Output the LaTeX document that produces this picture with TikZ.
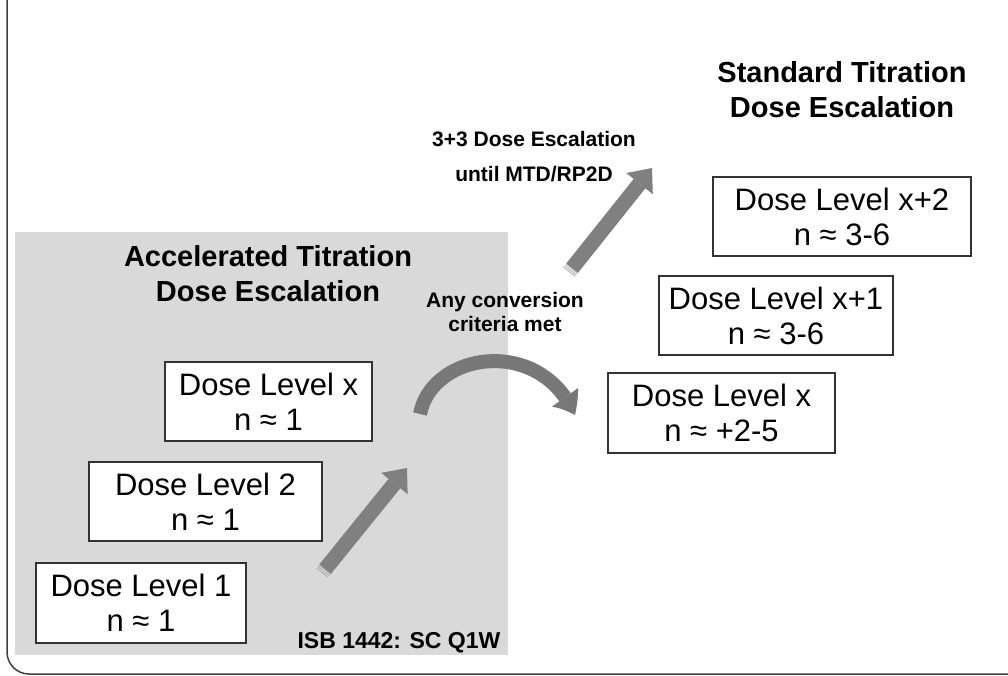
\documentclass[tikz,border=0pt]{standalone}
\usepackage{fontspec}
\setmainfont{Liberation Sans}
\usetikzlibrary{arrows.meta,bending,calc}

\newlength{\du}
\setlength{\du}{1pt}

\definecolor{panelgray}{rgb}{0.851000, 0.851000, 0.851000}
\definecolor{arrowgray}{rgb}{0.502000, 0.502000, 0.502000}
\definecolor{curvegray}{rgb}{0.470000, 0.470000, 0.470000}
\definecolor{boxline}{rgb}{0.200000, 0.200000, 0.200000}
\definecolor{framecolor}{rgb}{0.250000, 0.250000, 0.250000}

\tikzset{
  dosebox/.style={draw=boxline, line width=1.5\du, fill=white, inner sep=0pt,
    align=center, font=\fontsize{31}{35}\selectfont},
  headtext/.style={inner sep=0pt, align=center, font=\bfseries\fontsize{29}{35}\selectfont},
  notetext/.style={inner sep=0pt, align=center, font=\bfseries\fontsize{21}{24}\selectfont},
  blockarrow/.style={draw=arrowgray, line width=15\du,
    -{Triangle[length=20pt, width=34pt, line width=0pt]}},
  tailstripes/.style={draw=arrowgray!60, line width=15\du, dash pattern=on 1pt off 1pt},
  curvearrow/.style={draw=curvegray, line width=14\du,
    -{Triangle[length=21pt, width=32pt, line width=0pt, bend]}},
}

\begin{document}
\begin{tikzpicture}
\pgftransformxscale{1.000000}
\pgftransformyscale{-1.000000}
\useasboundingbox (0\du,0\du) rectangle (1008\du,675\du);
% outer frame
\draw[framecolor, line width=1.5\du, rounded corners=22\du] (7\du,-2\du)--(7\du,674\du)--(1010\du,674\du);
% accelerated titration panel
\fill[panelgray] (15\du,232\du)--(508\du,232\du)--(508\du,655\du)--(15\du,655\du)--cycle;
% setfont left to latex
\node[headtext] (acctitle) at (268\du,274\du){Accelerated Titration\\Dose Escalation};
\node[headtext] (stdtitle) at (842\du,90\du){Standard Titration\\Dose Escalation};
% dose levels, accelerated
\node[dosebox, minimum width=210\du, minimum height=80\du] (levelone) at (141\du,603\du){Dose Level 1\\n ≈ 1};
\node[dosebox, minimum width=233\du, minimum height=79\du] (leveltwo) at (205.5\du,501.5\du){Dose Level 2\\n ≈ 1};
\node[dosebox, minimum width=207\du, minimum height=79\du] (levelx) at (268.5\du,401.5\du){Dose Level x\\n ≈ 1};
% dose levels, standard
\node[dosebox, minimum width=227\du, minimum height=80\du] (stdx) at (721.5\du,413\du){Dose Level x\\n ≈ +2-5};
\node[dosebox, minimum width=234\du, minimum height=79\du] (stdxone) at (776\du,315.5\du){Dose Level x+1\\n ≈ 3-6};
\node[dosebox, minimum width=258\du, minimum height=79\du] (stdxtwo) at (842\du,216.5\du){Dose Level x+2\\n ≈ 3-6};
% setfont left to latex
\node[notetext, font=\bfseries\fontsize{21}{35}\selectfont] (threeplus) at (534\du,157\du){3+3 Dose Escalation\\until MTD/RP2D};
\node[notetext] (convnote) at (505\du,312\du){Any conversion\\criteria met};
\node[inner sep=0pt, anchor=base, font=\bfseries\fontsize{23}{27}\selectfont] (isbnote) at (399\du,648\du){ISB 1442: SC Q1W};
% arrows
\coordinate (lowtail) at (322\du,573\du);
\coordinate (lowtip) at (407\du,468\du);
\coordinate (uptail) at (569\du,272\du);
\coordinate (uptip) at (652\du,168\du);
\coordinate (curvestart) at (420\du,414\du);
\coordinate (curveend) at (575\du,415\du);
\draw[tailstripes] (lowtail)--($(lowtail)!5pt!(lowtip)$);
\draw[blockarrow] ($(lowtail)!5pt!(lowtip)$)--(lowtip);
\draw[tailstripes] (uptail)--($(uptail)!5pt!(uptip)$);
\draw[blockarrow] ($(uptail)!5pt!(uptip)$)--(uptip);
\draw[curvearrow] (curvestart) .. controls (432\du,352\du) and (540\du,335\du) .. (curveend);
\end{tikzpicture}
\end{document}
